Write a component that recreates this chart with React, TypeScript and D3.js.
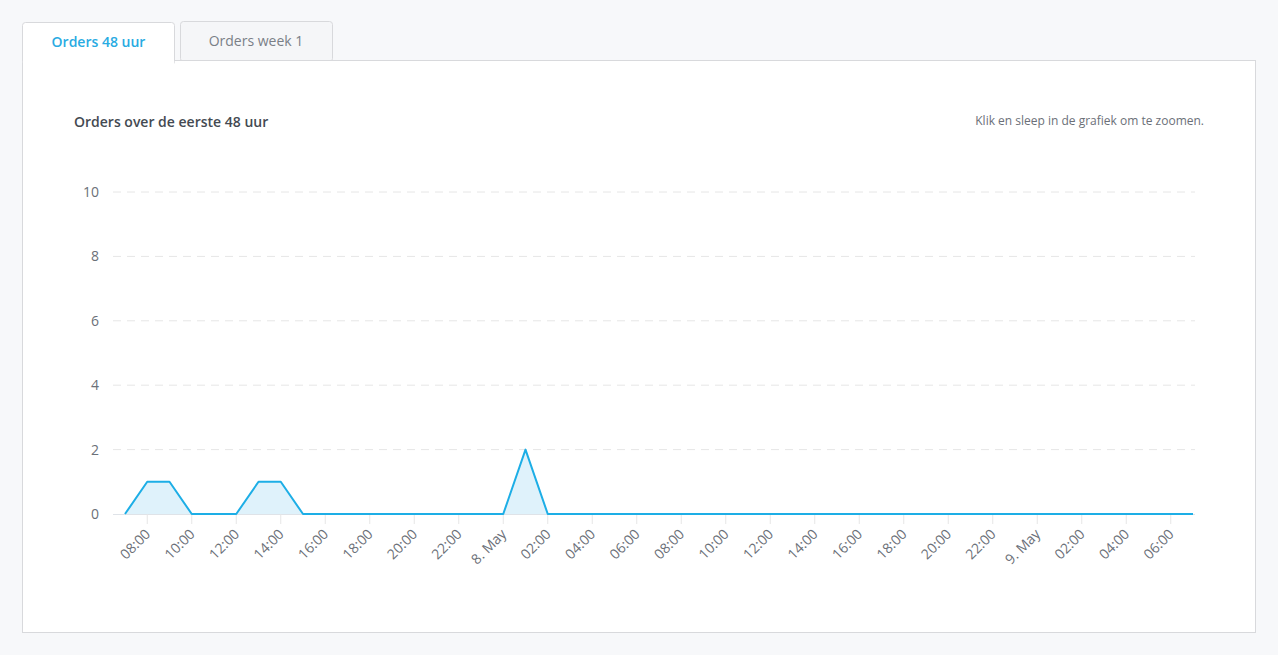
import React from "react";
import * as d3 from "d3";

const startTime = new Date(2024, 4, 7, 7, 0, 0);
const orderValues = [
  0, 1, 1, 0, 0, 0, 1, 1, 0, 0, 0, 0, 0, 0, 0, 0, 0, 0, 2, 0,
  0, 0, 0, 0, 0, 0, 0, 0, 0, 0, 0, 0, 0, 0, 0, 0, 0, 0, 0, 0,
  0, 0, 0, 0, 0, 0, 0, 0, 0,
];
const yTicks = [0, 2, 4, 6, 8, 10];
const tabLabels = ["Orders 48 uur", "Orders week 1"];
const chartTitle = "Orders over de eerste 48 uur";
const zoomHint = "Klik en sleep in de grafiek om te zoomen.";

const FONT = "'Open Sans', 'Noto Sans', sans-serif";

export default function App() {
  const data = orderValues.map((v, i) => ({
    t: d3.timeHour.offset(startTime, i),
    v,
  }));
  const x = d3
    .scaleTime()
    .domain([data[0].t, data[data.length - 1].t])
    .range([125, 1193]);
  const y = d3.scaleLinear().domain([0, 10]).range([514, 192]);

  const line = d3
    .line<{ t: Date; v: number }>()
    .x((d) => x(d.t))
    .y((d) => y(d.v));
  const area = d3
    .area<{ t: Date; v: number }>()
    .x((d) => x(d.t))
    .y0(y(0))
    .y1((d) => y(d.v));

  const xTicks = d3.timeHour
    .every(2)!
    .range(d3.timeHour.offset(startTime, 1), d3.timeHour.offset(startTime, 48));
  const fmt = (d: Date) =>
    d.getHours() === 0 ? d3.timeFormat("%-d. %b")(d) : d3.timeFormat("%H:%M")(d);

  return (
    <div style={{ position: "absolute", left: 0, top: 0 }}>
      <svg width={1278} height={655} style={{ display: "block", fontFamily: FONT }}>
        <rect x={0} y={0} width={1278} height={655} fill="#f7f8fa" />
        {/* inactive tab */}
        <rect x={180.5} y={21.5} width={152} height={40} rx={3} fill="#f5f6f8" stroke="#d8d9dc" />
        <text x={256} y={46} textAnchor="middle" fontSize={14} fill="#7a7f87">
          {tabLabels[1]}
        </text>
        {/* panel */}
        <rect x={22.5} y={60.5} width={1233} height={572} fill="#ffffff" stroke="#d8d9dc" />
        {/* active tab */}
        <rect x={22.5} y={22.5} width={152} height={42} rx={3} fill="#ffffff" stroke="#d8d9dc" />
        <rect x={23} y={58} width={151} height={8} fill="#ffffff" />
        <text x={98.5} y={47} textAnchor="middle" fontSize={14} fontWeight={600} fill="#29abe2">
          {tabLabels[0]}
        </text>

        <text x={74} y={127} fontSize={14} fontWeight={600} fill="#444a52">
          {chartTitle}
        </text>
        <text x={1204} y={125} textAnchor="end" fontSize={12} fill="#6b7078">
          {zoomHint}
        </text>

        {/* grid */}
        {yTicks.map((t) => (
          <g key={t}>
            {t > 0 && (
              <line
                x1={113}
                x2={1195}
                y1={y(t)}
                y2={y(t)}
                stroke="#e6e6e6"
                strokeDasharray="8,6"
              />
            )}
            <text x={99} y={y(t) + 5} textAnchor="end" fontSize={14} fill="#6b7078">
              {t}
            </text>
          </g>
        ))}
        <line x1={113} x2={1195} y1={y(0) + 0.5} y2={y(0) + 0.5} stroke="#dfe3e8" />

        {/* x ticks */}
        {xTicks.map((d, i) => (
          <g key={i}>
            <line x1={x(d)} x2={x(d)} y1={y(0)} y2={y(0) + 10} stroke="#e6e6e6" />
            <text
              transform={`translate(${x(d) + 4},${y(0) + 21}) rotate(-45)`}
              textAnchor="end"
              fontSize={14}
              fill="#6b7078"
            >
              {fmt(d)}
            </text>
          </g>
        ))}

        <path d={area(data)!} fill="#dff2fb" />
        <path d={line(data)!} fill="none" stroke="#1daee6" strokeWidth={2} strokeLinejoin="round" />
      </svg>
    </div>
  );
}
